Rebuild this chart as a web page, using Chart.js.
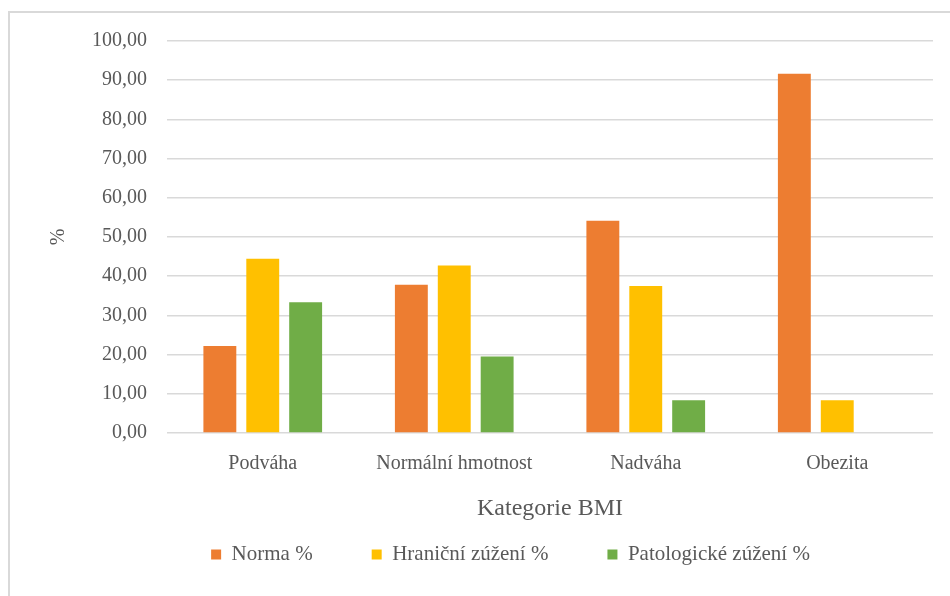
<!DOCTYPE html>
<html>
<head>
<meta charset="utf-8">
<script src="https://cdn.jsdelivr.net/npm/chart.js@4"></script>
<style>
  html, body { margin: 0; padding: 0; background: #fff; overflow: hidden; }
  .wrap { position: relative; width: 950px; height: 596px; }
  .frame {
    position: absolute; left: 8px; top: 11px; width: 1000px; height: 700px;
    border: 2px solid #d9d9d9; pointer-events: none;
  }
</style>
</head>
<body>
<div class="wrap">
  <canvas id="chart" width="950" height="596"></canvas>
  <div class="frame"></div>
</div>
<script>
const categories = ["Podváha", "Normální hmotnost", "Nadváha", "Obezita"];
const normaValues = [22.22, 37.8, 54.17, 91.67];
const hranicniValues = [44.44, 42.7, 37.5, 8.33];
const patologickeValues = [33.33, 19.5, 8.33, 0];
const yTicks = [0, 10, 20, 30, 40, 50, 60, 70, 80, 90, 100];

const serif = "'Liberation Serif', 'Times New Roman', serif";
const textColor = "#595959";

// Excel places the legend a bit right of the canvas centre
const legendShift = {
  id: "legendShift",
  afterLayout(chart) {
    chart.legend.left += 88;
  },
};

new Chart(document.getElementById("chart"), {
  type: "bar",
  data: {
    labels: categories,
    datasets: [
      { label: "Norma %", data: normaValues, backgroundColor: "#ED7D31" },
      { label: "Hraniční zúžení %", data: hranicniValues, backgroundColor: "#FFC000" },
      { label: "Patologické zúžení %", data: patologickeValues, backgroundColor: "#70AD47" },
    ],
  },
  options: {
    responsive: false,
    animation: false,
    devicePixelRatio: 1,
    categoryPercentage: 0.672,
    barPercentage: 0.767,
    layout: { padding: { top: 41, right: 17, bottom: 21, left: 0 } },
    plugins: {
      tooltip: { enabled: false },
      legend: {
        position: "bottom",
        labels: {
          boxWidth: 10,
          boxHeight: 10,
          padding: 59,
          color: textColor,
          font: { family: serif, size: 21 },
        },
      },
    },
    scales: {
      x: {
        grid: { display: false, drawTicks: false },
        border: { display: false },
        ticks: { color: textColor, font: { family: serif, size: 20 }, padding: 19 },
        title: {
          display: true,
          text: "Kategorie BMI",
          color: textColor,
          font: { family: serif, size: 24 },
          padding: { top: 0, bottom: -38 },
        },
        afterFit(scale) {
          scale.height = 52;
        },
      },
      y: {
        min: 0,
        max: 100,
        afterBuildTicks(scale) {
          scale.ticks = yTicks.map((v) => ({ value: v }));
        },
        grid: { color: "#d9d9d9", lineWidth: 1.5, drawTicks: false },
        border: { display: false },
        ticks: {
          color: textColor,
          font: { family: serif, size: 20 },
          padding: 20,
          callback: (v) => v.toFixed(2).replace(".", ","),
        },
        title: {
          display: true,
          text: "%",
          color: textColor,
          font: { family: serif, size: 20 },
          padding: { top: 47, bottom: 0 },
        },
        afterFit(scale) {
          scale.width = 167;
        },
      },
    },
  },
  plugins: [legendShift],
});
</script>
</body>
</html>
